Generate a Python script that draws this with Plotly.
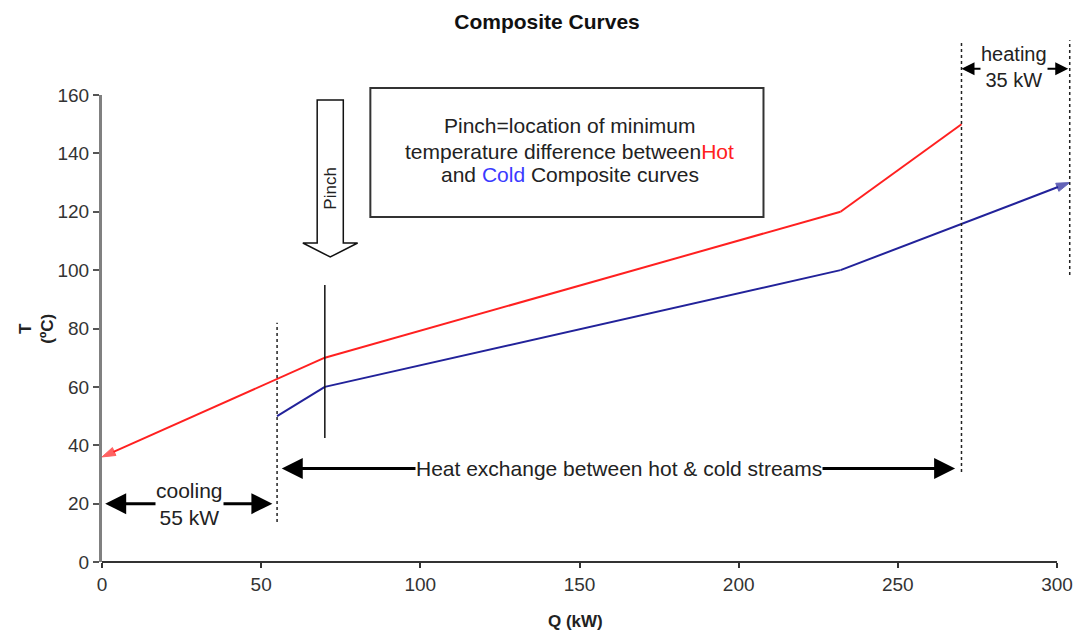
import plotly.graph_objects as go

# ---- data ----
hot_q = [0, 70, 232, 270]
hot_t = [36, 70, 120, 150]
cold_q = [55, 70, 232, 304]
cold_t = [50, 60, 100, 130]
x_ticks = [0, 50, 100, 150, 200, 250, 300]
y_ticks = [0, 20, 40, 60, 80, 100, 120, 140, 160]
pinch_q = 70
cooling_label = "cooling<br>55 kW"
heating_label = "heating<br>35 kW"
exchange_label = "Heat exchange between hot & cold streams"
box_lines = [
    "Pinch=location of minimum",
    "temperature difference between<span style='color:#FF2020'>Hot</span>",
    "and <span style='color:#3A3AFF'>Cold</span> Composite curves",
]
box_line_t = [149.4, 140.8, 132.6]

X_MAX = 304.4
Y_MAX = 160
FONT = "Liberation Sans, Arial, sans-serif"
HOT = "#FF2020"
COLD = "#22229A"

def py(v):
    """data temperature -> paper y"""
    return v / Y_MAX

fig = go.Figure()
fig.add_trace(go.Scatter(
    x=hot_q[::-1], y=hot_t[::-1], mode="lines+markers",
    line=dict(color=HOT, width=2),
    marker=dict(symbol="arrow", size=[0, 0, 0, 14], angleref="previous", color=HOT,
                line=dict(color=HOT, width=1)),
    cliponaxis=False, showlegend=False, hoverinfo="skip"))
fig.add_trace(go.Scatter(
    x=cold_q, y=cold_t, mode="lines+markers",
    line=dict(color=COLD, width=2),
    marker=dict(symbol="arrow", size=[0, 0, 0, 14], angleref="previous", color=COLD,
                line=dict(color=COLD, width=1)),
    cliponaxis=False, showlegend=False, hoverinfo="skip"))

shapes = []
# x axis line (0..300)
shapes.append(dict(type="line", xref="x", yref="paper", x0=x_ticks[0], x1=x_ticks[-1],
                   y0=0, y1=0, line=dict(color="#333333", width=2)))
# dotted boundaries
for q, t0, t1 in [(cold_q[0], 13.7, 82), (hot_q[-1], 30.8, 178.8), (cold_q[-1], 98.3, 178.8)]:
    shapes.append(dict(type="line", xref="x", yref="paper", x0=q, x1=q, y0=py(t0), y1=py(t1),
                       line=dict(color="#222222", width=1.5, dash="dot")))
# pinch vertical line
shapes.append(dict(type="line", xref="x", yref="y", x0=pinch_q, x1=pinch_q, y0=42.5, y1=94.9,
                   line=dict(color="#111111", width=1.5)))
# hollow pinch arrow
c, sw, hw, top, base, tip = 71.7, 4.1, 8.6, 158.3, 109.3, 104.5
path = (f"M{c-sw},{top} L{c+sw},{top} L{c+sw},{base} L{c+hw},{base} "
        f"L{c},{tip} L{c-hw},{base} L{c-sw},{base} Z")
shapes.append(dict(type="path", xref="x", yref="y", path=path,
                   line=dict(color="#111111", width=1.5), fillcolor="white"))
# text box
shapes.append(dict(type="rect", xref="x", yref="paper", x0=84.3, x1=207.8, y0=py(118.2), y1=py(162.4),
                   line=dict(color="#333333", width=2), fillcolor="rgba(0,0,0,0)"))

ann = []
txt = dict(family=FONT, size=21, color="#222222")
for line, t in zip(box_lines, box_line_t):
    ann.append(dict(xref="x", yref="y", x=147, y=t, showarrow=False, font=txt, text=line))
ann.append(dict(xref="x", yref="y", x=71.7, y=128, showarrow=False, textangle=-90,
                text="Pinch", font=dict(family=FONT, size=17, color="#222222")))

arrow_common = dict(showarrow=True, arrowside="end+start", arrowcolor="#000000",
                    arrowhead=2, standoff=0, startstandoff=0, text="")
# cooling
ann.append(dict(xref="x", yref="y", axref="x", ayref="y", x=1, y=20, ax=54, ay=20,
                arrowwidth=3, arrowsize=1.4, startarrowhead=2, startarrowsize=1.4, **arrow_common))
ann.append(dict(xref="x", yref="y", x=27.6, y=20, showarrow=False, text=cooling_label,
                bgcolor="white", borderpad=0, font=dict(family=FONT, size=21, color="#222222")))
# heat exchange
ann.append(dict(xref="x", yref="y", axref="x", ayref="y", x=268, y=32, ax=56, ay=32,
                arrowwidth=3, arrowsize=1.4, startarrowhead=2, startarrowsize=1.4, **arrow_common))
ann.append(dict(xref="x", yref="y", x=162.4, y=32, showarrow=False, text=exchange_label,
                bgcolor="white", borderpad=0, font=dict(family=FONT, size=21, color="#222222")))
# heating
ann.append(dict(xref="x", yref="paper", axref="x", ayref="pixel", x=hot_q[-1], y=py(169), ax=cold_q[-1], ay=0,
                arrowwidth=2, arrowsize=1.3, startarrowhead=2, startarrowsize=1.3, **arrow_common))
ann.append(dict(xref="x", yref="paper", x=286.5, y=py(169.5), xanchor="center", yanchor="middle",
                showarrow=False, text=heating_label,
                bgcolor="white", borderpad=0, font=dict(family=FONT, size=20, color="#222222")))
# axis titles
ann.append(dict(xref="paper", yref="paper", x=(576 - 102) / 971, y=-0.128, xanchor="center",
                yanchor="middle", showarrow=False, text="<b>Q (kW)</b>",
                font=dict(family=FONT, size=17, color="#222222")))
ann.append(dict(xref="paper", yref="paper", x=(36 - 102) / 971, y=0.5, xanchor="center",
                yanchor="middle", showarrow=False, textangle=-90,
                text="<b>T<br>(ºC)</b>", font=dict(family=FONT, size=17, color="#222222")))

tickfont = dict(family=FONT, size=19, color="#333333")
fig.update_layout(
    width=1075, height=637,
    margin=dict(l=102, r=2, t=95, b=75),
    paper_bgcolor="white", plot_bgcolor="white",
    title=dict(text="<b>Composite Curves</b>", x=547 / 1075, xanchor="center", y=1 - 22 / 637,
               yanchor="middle", font=dict(family=FONT, size=21, color="#111111")),
    xaxis=dict(range=[0, X_MAX], tickvals=x_ticks, ticktext=[str(v) for v in x_ticks],
               showgrid=False, zeroline=False, showline=False, ticks="outside", ticklen=5,
               tickwidth=2, tickcolor="#333333", tickfont=tickfont),
    xaxis2=dict(range=[0, X_MAX], overlaying="x", anchor="y", tickvals=x_ticks, showticklabels=False,
                showgrid=False, zeroline=False, showline=False, ticks="inside", ticklen=5,
                tickwidth=2, tickcolor="#333333"),
    yaxis=dict(range=[0, Y_MAX], tickvals=y_ticks, showgrid=False, zeroline=False, showline=True,
               linecolor="#808080", linewidth=3, ticks="outside", ticklen=6, tickwidth=2,
               tickcolor="#555555", tickfont=tickfont),
    yaxis2=dict(range=[0, Y_MAX], overlaying="y", anchor="x", tickvals=y_ticks, showticklabels=False,
                showgrid=False, zeroline=False, showline=False, ticks="inside", ticklen=6,
                tickwidth=2, tickcolor="#555555"),
    shapes=shapes, annotations=ann, showlegend=False,
)
fig.write_html("out.html", config={"displayModeBar": False},
               post_script="document.body.style.margin='0px';")
